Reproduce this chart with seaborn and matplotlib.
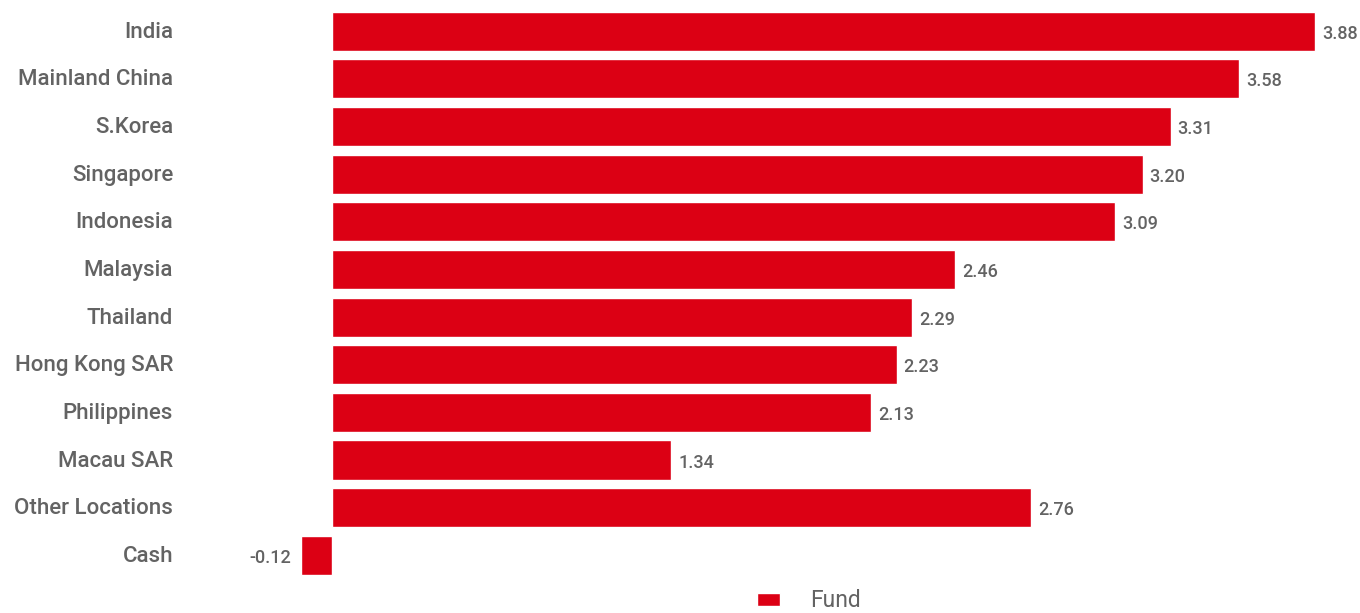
import matplotlib
matplotlib.use("Agg")
import matplotlib.pyplot as plt
import matplotlib.transforms as mtransforms
import seaborn as sns
import pandas as pd

locations = ["India", "Mainland China", "S.Korea", "Singapore", "Indonesia", "Malaysia",
             "Thailand", "Hong Kong SAR", "Philippines", "Macau SAR", "Other Locations", "Cash"]
fund = [3.88, 3.58, 3.31, 3.20, 3.09, 2.46, 2.29, 2.23, 2.13, 1.34, 2.76, -0.12]
series_name = "Fund"

RED = "#DC0014"
GRAY = "#636363"

sns.set_theme(style="white")
plt.rcParams['font.family'] = ['Roboto', 'DejaVu Sans']

df = pd.DataFrame({"location": locations, "value": fund})

W, H = 1360, 613
fig = plt.figure(figsize=(W / 100, H / 100), dpi=100)
ax_left, ax_right = 180, 1360
ax_top, ax_bottom = 7.5, 579.1
ax = fig.add_axes([ax_left / W, 1 - ax_bottom / H, (ax_right - ax_left) / W, (ax_bottom - ax_top) / H])

sns.barplot(data=df, x="value", y="location", color=RED, saturation=1, width=0.82,
            ax=ax, label=series_name, orient="h")

zero_px, ppu = 331.5, 253.5
ax.set_xlim((ax_left - zero_px) / ppu, (ax_right - zero_px) / ppu)
ax.set_ylim(len(locations) - 0.5, -0.5)

for s in ax.spines.values():
    s.set_visible(False)
ax.set_xticks([])
ax.set_xlabel("")
ax.set_ylabel("")
ax.tick_params(axis="y", length=0, pad=5, labelsize=16, labelcolor=GRAY)
shift = mtransforms.ScaledTranslation(0, 1.5 / 100, fig.dpi_scale_trans)
for lab in ax.get_yticklabels():
    lab.set_transform(lab.get_transform() + shift)
    lab.set_fontweight("medium")

for i, v in enumerate(fund):
    if v >= 0:
        ax.annotate(f"{v:.2f}", (v, i), xytext=(5, -1.8), textcoords="offset points",
                    ha="left", va="center", fontsize=13, color=GRAY, fontweight="medium")
    else:
        ax.annotate(f"{v:.2f}", (v, i), xytext=(-7, -1.8), textcoords="offset points",
                    ha="right", va="center", fontsize=13, color=GRAY, fontweight="medium")

handles, labels = ax.get_legend_handles_labels()
if ax.get_legend() is not None:
    ax.get_legend().remove()
fig.legend(handles, labels, loc="center", bbox_to_anchor=(0.595, 0.02), frameon=False,
           fontsize=16.5, labelcolor=GRAY, handlelength=1.0, handleheight=0.5,
           handletextpad=1.3, borderpad=0)

fig.savefig("out.png", dpi=100)
